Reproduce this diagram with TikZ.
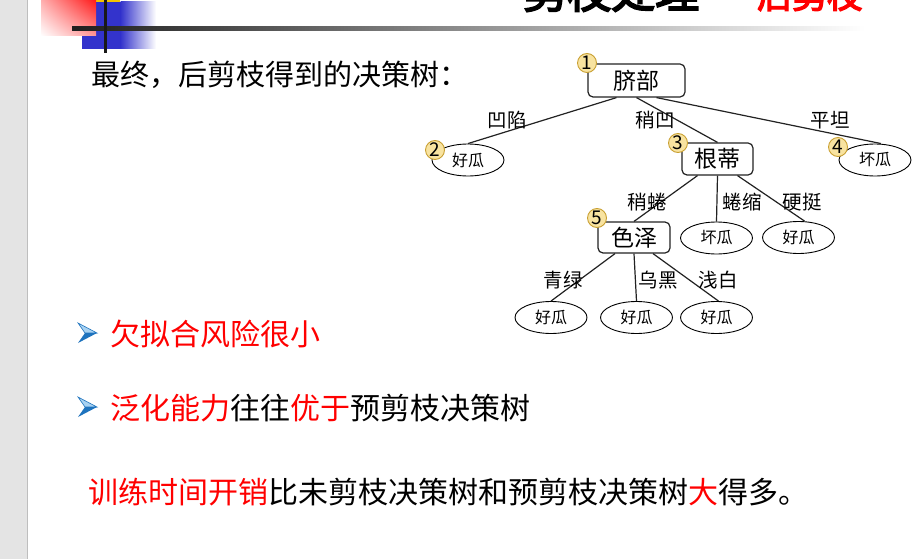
\documentclass[tikz,border=0pt]{standalone}
\usepackage{fontspec}
\setmainfont{Noto Sans CJK SC}
\newfontfamily\titlefont[FakeBold=4]{Noto Sans CJK SC}
\usetikzlibrary{shapes.geometric,shadings}
\definecolor{panelgray}{HTML}{E4E4E4}
\definecolor{panelline}{HTML}{BEBEBE}
\definecolor{deco blue}{HTML}{3333CC}
\definecolor{deco red}{HTML}{FF1A1A}
\definecolor{deco yellow}{HTML}{F5C400}
\definecolor{badge fill}{HTML}{F8E3A0}
\definecolor{badge line}{HTML}{C9A032}
\definecolor{bullet dark}{HTML}{1E73BE}
\definecolor{bullet light}{HTML}{A8D2F2}
\definecolor{edgecol}{HTML}{222222}
\newcommand\setfs[1]{\fontsize{#1}{#1}\selectfont}
\tikzset{
  inode/.style={draw=edgecol, line width=1.2pt, rounded corners=5pt, fill=white,
    inner sep=0pt, font=\setfs{23}},
  leaf/.style={draw=black, line width=0.9pt, ellipse, fill=white, inner sep=0pt,
    minimum width=72pt, minimum height=32pt, font=\setfs{16}},
  badge/.style={circle, draw=badge line, line width=0.9pt, fill=badge fill,
    inner sep=0pt, minimum size=19pt, font=\setfs{19}},
  elabel/.style={inner sep=0pt, font=\setfs{19.5}},
  branch/.style={draw=edgecol, line width=1.2pt},
  bodytext/.style={anchor=west, inner sep=0pt, font=\setfs{30}},
  bul/.pic={
    \fill[bullet light, draw=bullet dark, line width=0.6pt] (0,-10) -- (19,0) -- (7,0) -- cycle;
    \fill[bullet dark] (0,10) -- (19,0) -- (7,0) -- cycle;
  }
}
\begin{document}
\begin{tikzpicture}[x=1pt,y=-1pt]
  \clip (0,0) rectangle (923,559);
  \fill[white] (0,0) rectangle (923,559);

  % left margin panel
  \fill[panelgray] (0,0) rectangle (27,559);
  \draw[panelline, line width=1pt] (27.5,0) -- (27.5,559);

  % header ornament
  \fill[deco yellow] (96,-2) rectangle (120,3);
  \fill[deco blue] (82,2) rectangle (121,49);
  \shade[left color=deco blue, right color=white] (120.5,2) rectangle (156,49);
  \shade[upper left=deco red!35, upper right=deco red, lower left=white, lower right=deco red!45]
    (41,0) rectangle (96,36);
  \shade[left color=black!88, right color=white] (72,27) rectangle (865,31);
  \draw[black!90, line width=3pt] (105,0) -- (105,53);

  % header title
  \node[anchor=base west, inner sep=0pt, font=\titlefont\setfs{44}] (title) at (523,8) {剪枝处理};
  \node[anchor=base west, inner sep=0pt, font=\titlefont\setfs{35}, text=red] (subtitle) at (757,8) {后剪枝};

  % intro line
  \node[anchor=west, inner sep=0pt, font=\setfs{29}] (intro) at (91,75) {最终，后剪枝得到的决策树：};

  % decision tree: internal nodes
  \node[inode, minimum width=97pt, minimum height=33pt] (qibu)  at (636.5,80.5) {脐部};
  \node[inode, minimum width=71pt, minimum height=32pt] (gendi) at (717.5,159)  {根蒂};
  \node[inode, minimum width=72pt, minimum height=31pt] (sezhe) at (634,237.5)  {色泽};

  % decision tree: leaves
  \node[leaf] (good1) at (468,160)     {好瓜};
  \node[leaf] (bad1)  at (875,160)     {坏瓜};
  \node[leaf] (bad2)  at (716.5,238)   {坏瓜};
  \node[leaf] (good2) at (798.5,237.5) {好瓜};
  \node[leaf] (good3) at (551,317.5)   {好瓜};
  \node[leaf] (good4) at (636.5,317.5) {好瓜};
  \node[leaf] (good5) at (716.5,317.5) {好瓜};

  % branches
  \draw[branch] ([xshift=-20pt]qibu.south) -- (good1.north);
  \draw[branch] (qibu.south) -- (gendi.north);
  \draw[branch] ([xshift=20pt]qibu.south) -- ([xshift=6pt]bad1.north);
  \draw[branch] ([xshift=-20pt]gendi.south) -- (sezhe.north);
  \draw[branch] (gendi.south) -- (bad2.north);
  \draw[branch] ([xshift=20pt]gendi.south) -- ([xshift=6pt]good2.north);
  \draw[branch] ([xshift=-19pt]sezhe.south) -- (good3.north);
  \draw[branch] (sezhe.south) -- (good4.north);
  \draw[branch] ([xshift=19pt]sezhe.south) -- ([xshift=2pt]good5.north);

  % branch labels
  \node[elabel] (l1) at (507,120) {凹陷};
  \node[elabel] (l2) at (655,120) {稍凹};
  \node[elabel] (l3) at (830,120) {平坦};
  \node[elabel] (l4) at (647,202) {稍蜷};
  \node[elabel] (l5) at (742,202) {蜷缩};
  \node[elabel] (l6) at (802,202) {硬挺};
  \node[elabel] (l7) at (563,280) {青绿};
  \node[elabel] (l8) at (658,280) {乌黑};
  \node[elabel] (l9) at (718,280) {浅白};

  % node numbers
  \node[badge] (n1) at (587,63)  {1};
  \node[badge] (n2) at (435,150) {2};
  \node[badge] (n3) at (678,143) {3};
  \node[badge] (n4) at (838,147) {4};
  \node[badge] (n5) at (597,218) {5};

  % bullet points
  \pic at (78,333) {bul};
  \node[bodytext, text=red] (p1) at (110,334) {欠拟合风险很小};
  \pic at (78,407) {bul};
  \node[bodytext] (p2) at (110,408)
    {\textcolor{red}{泛化能力}往往\textcolor{red}{优于}预剪枝决策树};

  % closing remark
  \node[bodytext] (p3) at (88,492)
    {\textcolor{red}{训练时间开销}比未剪枝决策树和预剪枝决策树\textcolor{red}{大}得多。};
\end{tikzpicture}
\end{document}
